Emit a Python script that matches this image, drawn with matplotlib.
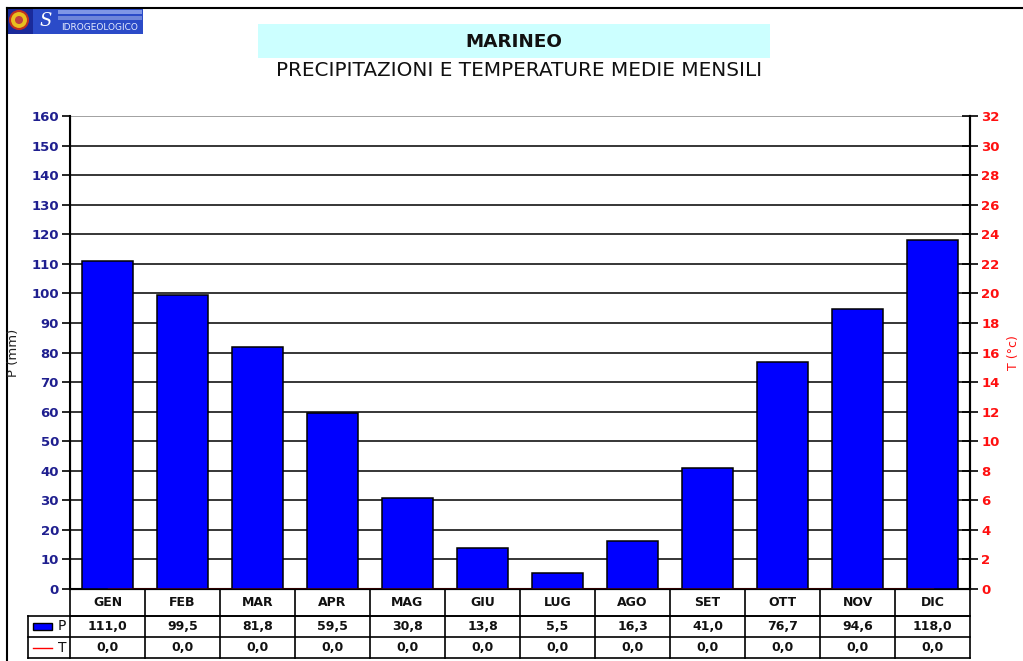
import matplotlib
matplotlib.use("Agg")
import matplotlib.pyplot as plt
import matplotlib.transforms as mtransforms
from matplotlib.patches import Rectangle, Circle
from matplotlib.lines import Line2D
import numpy as np

# Monthly data for Marineo
months = ["GEN", "FEB", "MAR", "APR", "MAG", "GIU", "LUG", "AGO", "SET", "OTT", "NOV", "DIC"]
precip_mm = [111.0, 99.5, 81.8, 59.5, 30.8, 13.8, 5.5, 16.3, 41.0, 76.7, 94.6, 118.0]
temp_c = [0.0, 0.0, 0.0, 0.0, 0.0, 0.0, 0.0, 0.0, 0.0, 0.0, 0.0, 0.0]

station = "MARINEO"
subtitle = "PRECIPITAZIONI E TEMPERATURE MEDIE MENSILI"
logo_text = "IDROGEOLOGICO"

W, H = 1023, 661
fig = plt.figure(figsize=(W / 100, H / 100), dpi=100)
fig.patch.set_facecolor("white")

# pixel-based overlay for page decorations
deco = fig.add_axes([0, 0, 1, 1], zorder=0)
deco.set_xlim(0, W)
deco.set_ylim(H, 0)
deco.axis("off")

# page frame
deco.add_line(Line2D([7, 7], [8, H], color="black", lw=1.5))
deco.add_line(Line2D([7, W], [8, 8], color="black", lw=1.5))

# title box
deco.add_patch(Rectangle((258, 24), 512, 34, facecolor="#CCFFFF", edgecolor="none"))
deco.text(514, 42, station, ha="center", va="center", fontsize=13.2, fontweight="bold",
          color="#111111", family="DejaVu Sans")
deco.text(519, 71, subtitle, ha="center", va="center", fontsize=14.4,
          color="#111111", family="DejaVu Sans")

# logo block
deco.add_patch(Rectangle((8, 9), 25, 25, facecolor="#1A2A9A", edgecolor="none"))
deco.add_patch(Circle((19, 20), 9, facecolor="#E8C020", edgecolor="#C03020", lw=1.5))
deco.add_patch(Circle((19, 20), 4, facecolor="#C04040", edgecolor="none"))
deco.add_patch(Rectangle((33, 9), 110, 25, facecolor="#2B4BC8", edgecolor="none"))
deco.add_patch(Rectangle((58, 10), 84, 4, facecolor="#7F96E6", edgecolor="none"))
deco.add_patch(Rectangle((58, 16), 84, 4, facecolor="#6F86DA", edgecolor="none"))
deco.text(46, 21, "S", ha="center", va="center", fontsize=13, color="white",
          family="DejaVu Serif", style="italic")
deco.text(100, 28, logo_text, ha="center", va="center", fontsize=6.5, color="#E6ECFF",
          family="DejaVu Sans")

# main chart
left, right, top, bottom = 70, 970, 116, 589
ax = fig.add_axes([left / W, 1 - bottom / H, (right - left) / W, (bottom - top) / H], zorder=2)
ax.set_facecolor("none")
x = np.arange(len(months))
ax.set_xlim(-0.5, len(months) - 0.5)
ax.set_ylim(0, 160)
ax.set_yticks(np.arange(0, 161, 10))
for v in np.arange(10, 161, 10):
    ax.axhline(v, color="#888888" if v == 160 else "black", lw=1.1, zorder=1)

ax.bar(x, precip_mm, width=0.667, color="#0000FF", edgecolor="black", linewidth=1.1, zorder=3)

ax.set_xticks([])
ax.tick_params(axis="y", direction="out", length=6, width=1.2, colors="black",
               labelcolor="#1F1F8F", labelsize=9.5, pad=2)
for lab in ax.get_yticklabels():
    lab.set_fontweight("bold")
ax.spines["top"].set_visible(False)
for s in ["left", "bottom", "right"]:
    ax.spines[s].set_linewidth(1.5)
ax.set_ylabel("P (mm)", fontsize=9.5, color="#222222")
ax.yaxis.set_label_coords(-0.056, 0.5)

ax2 = ax.twinx()
ax2.set_ylim(0, 32)
ax2.set_yticks(np.arange(0, 33, 2))
ax2.plot(x, temp_c, color="red", lw=1, zorder=0, clip_on=True)
ax2.tick_params(axis="y", direction="inout", length=12, width=1.2, colors="black",
                labelcolor="#FF1010", labelsize=9.5, pad=2)
for lab in ax2.get_yticklabels():
    lab.set_fontweight("bold")
ax2.spines["top"].set_visible(False)
ax2.spines["right"].set_linewidth(1.5)
ax2.set_ylabel("T (°c)", fontsize=9, color="#FF1010")
ax2.yaxis.set_label_coords(1.041, 0.5)

# data table under the chart
ph = bottom - top
pw = right - left
y_head = -27 / ph
y_p = -48 / ph
y_t = -69 / ph
x_lab = -42 / pw
tr = mtransforms.blended_transform_factory(ax.transData, ax.transAxes)
kw = dict(color="black", lw=1.2, clip_on=False, zorder=5)
# horizontal rules
ax.plot([-0.5, 11.5], [y_head, y_head], transform=tr, **kw)
ax.plot([x_lab, 1], [y_p, y_p], transform=ax.transAxes, **kw)
ax.plot([x_lab, 1], [y_t, y_t], transform=ax.transAxes, **kw)
ax.plot([x_lab, 1], [y_head, y_head], transform=ax.transAxes, **kw)
ax.plot([x_lab, x_lab], [y_head, y_t], transform=ax.transAxes, **kw)
# vertical rules
for b in np.arange(-0.5, 12, 1.0):
    ax.plot([b, b], [0, y_t], transform=tr, **kw)

txt = dict(ha="center", va="center", fontsize=9, fontweight="bold", color="#111111",
           transform=tr, clip_on=False)
for i, m in enumerate(months):
    ax.text(x[i], y_head / 2, m, **txt)
    ax.text(x[i], (y_head + y_p) / 2, f"{precip_mm[i]:.1f}".replace(".", ","), **txt)
    ax.text(x[i], (y_p + y_t) / 2, f"{temp_c[i]:.1f}".replace(".", ","), **txt)

# legend keys in the label column
ax.add_patch(Rectangle((-37 / pw, (y_head + y_p) / 2 - 3.5 / ph), 19 / pw, 7 / ph,
                       transform=ax.transAxes, facecolor="#0000FF", edgecolor="black",
                       lw=1, clip_on=False, zorder=5))
ax.text(-8 / pw, (y_head + y_p) / 2, "P", ha="center", va="center", fontsize=10,
        color="#111111", transform=ax.transAxes, clip_on=False)
ax.plot([-37 / pw, -18 / pw], [(y_p + y_t) / 2] * 2, color="red", lw=1,
        transform=ax.transAxes, clip_on=False, zorder=5)
ax.text(-8 / pw, (y_p + y_t) / 2, "T", ha="center", va="center", fontsize=10,
        color="#111111", transform=ax.transAxes, clip_on=False)

fig.savefig("out.png", dpi=100, facecolor="white")
